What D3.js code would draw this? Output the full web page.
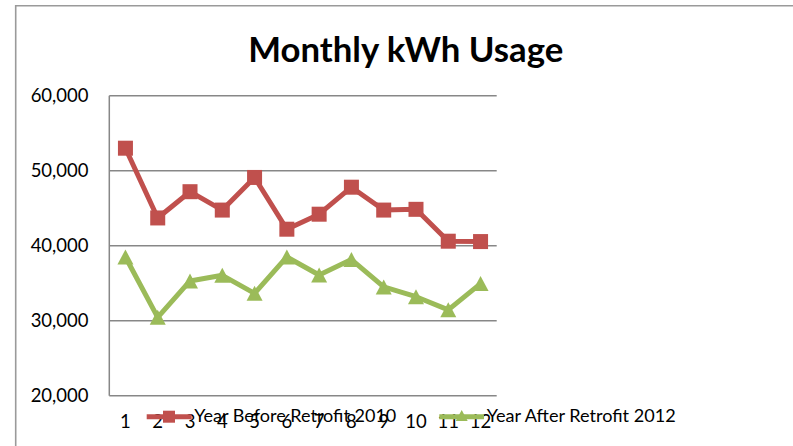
<!DOCTYPE html>
<html>
<head>
<meta charset="utf-8">
<script src="https://cdn.jsdelivr.net/npm/d3@7"></script>
<style>
  html, body { margin: 0; padding: 0; background: #fff; }
  svg { display: block; }
  text { font-family: Lato, "Open Sans", sans-serif; fill: #000; }
</style>
</head>
<body>
<svg id="chart" width="793" height="446"></svg>
<script>
const title = "Monthly kWh Usage";
const months = ["1","2","3","4","5","6","7","8","9","10","11","12"];
const seriesNames = ["Year Before Retrofit 2010", "Year After Retrofit 2012"];
const before2010 = [53000, 43700, 47200, 44750, 49100, 42200, 44200, 47800, 44750, 44850, 40600, 40550];
const after2012  = [38500, 30450, 35300, 36050, 33650, 38500, 36100, 38150, 34500, 33200, 31450, 34950];
const yTicks = [20000, 30000, 40000, 50000, 60000];

const svg = d3.select("#chart");
const red = "#C0504D", green = "#9BBB59", grid = "#878787";

// outer chart border (left + top only visible)
svg.append("path")
  .attr("d", "M15.7,446 L15.7,5.7 L793,5.7")
  .attr("fill", "none").attr("stroke", "#9a9a9a").attr("stroke-width", 1.6);

// title
svg.append("text")
  .attr("x", 405.8).attr("y", 61.7)
  .attr("text-anchor", "middle")
  .attr("font-size", 35).attr("font-weight", "bold")
  .attr("textLength", 315).attr("lengthAdjust", "spacingAndGlyphs")
  .text(title);

const x = d3.scalePoint().domain(months).range([109.3, 496.7]).padding(0.5);
const y = d3.scaleLinear().domain([20000, 60000]).range([395.7, 95.7]);

// gridlines
svg.append("g").selectAll("line").data(yTicks).join("line")
  .attr("x1", 109.3).attr("x2", 496.7)
  .attr("y1", d => y(d)).attr("y2", d => y(d))
  .attr("stroke", grid).attr("stroke-width", 1.5);

// y axis line
svg.append("line")
  .attr("x1", 109.3).attr("x2", 109.3)
  .attr("y1", y(60000)).attr("y2", y(20000))
  .attr("stroke", grid).attr("stroke-width", 1.5);

// y tick labels
const fmt = d3.format(",");
svg.append("g").selectAll("text").data(yTicks).join("text")
  .attr("x", 88.5).attr("y", d => y(d) + 6.5)
  .attr("text-anchor", "end").attr("font-size", 18.5)
  .text(d => fmt(d));

// x tick labels
svg.append("g").selectAll("text").data(months).join("text")
  .attr("x", d => x(d)).attr("y", 428)
  .attr("text-anchor", "middle").attr("font-size", 18.5)
  .text(d => d);

const line = d3.line().x((d, i) => x(months[i])).y(d => y(d));
const triPath = (w, h) => `M0,${-h / 2}L${w / 2},${h / 2}L${-w / 2},${h / 2}Z`;

// series: before 2010
svg.append("path").datum(before2010)
  .attr("d", line).attr("fill", "none")
  .attr("stroke", red).attr("stroke-width", 5).attr("stroke-linejoin", "round");
const sq = 15;
svg.append("g").selectAll("rect").data(before2010).join("rect")
  .attr("x", (d, i) => x(months[i]) - sq / 2)
  .attr("y", d => y(d) - sq / 2)
  .attr("width", sq).attr("height", sq)
  .attr("fill", red);

// series: after 2012
svg.append("path").datum(after2012)
  .attr("d", line).attr("fill", "none")
  .attr("stroke", green).attr("stroke-width", 5).attr("stroke-linejoin", "round");
svg.append("g").selectAll("path").data(after2012).join("path")
  .attr("d", triPath(16, 15))
  .attr("transform", (d, i) => `translate(${x(months[i])},${y(d)})`)
  .attr("fill", green);

// legend
const leg = svg.append("g");
leg.append("line").attr("x1", 146.7).attr("x2", 191.7).attr("y1", 416.7).attr("y2", 416.7)
  .attr("stroke", red).attr("stroke-width", 5);
leg.append("rect").attr("x", 169 - 6).attr("y", 416.7 - 6).attr("width", 12).attr("height", 12).attr("fill", red);
leg.append("text").attr("x", 194.3).attr("y", 422).attr("font-size", 18)
  .attr("textLength", 202).attr("lengthAdjust", "spacingAndGlyphs")
  .text(seriesNames[0]);

leg.append("line").attr("x1", 439.3).attr("x2", 484).attr("y1", 416.7).attr("y2", 416.7)
  .attr("stroke", green).attr("stroke-width", 5);
leg.append("path").attr("d", triPath(12, 11))
  .attr("transform", "translate(461.7,415.5)").attr("fill", green);
leg.append("text").attr("x", 486.7).attr("y", 422).attr("font-size", 18)
  .attr("textLength", 189).attr("lengthAdjust", "spacingAndGlyphs")
  .text(seriesNames[1]);
</script>
</body>
</html>
